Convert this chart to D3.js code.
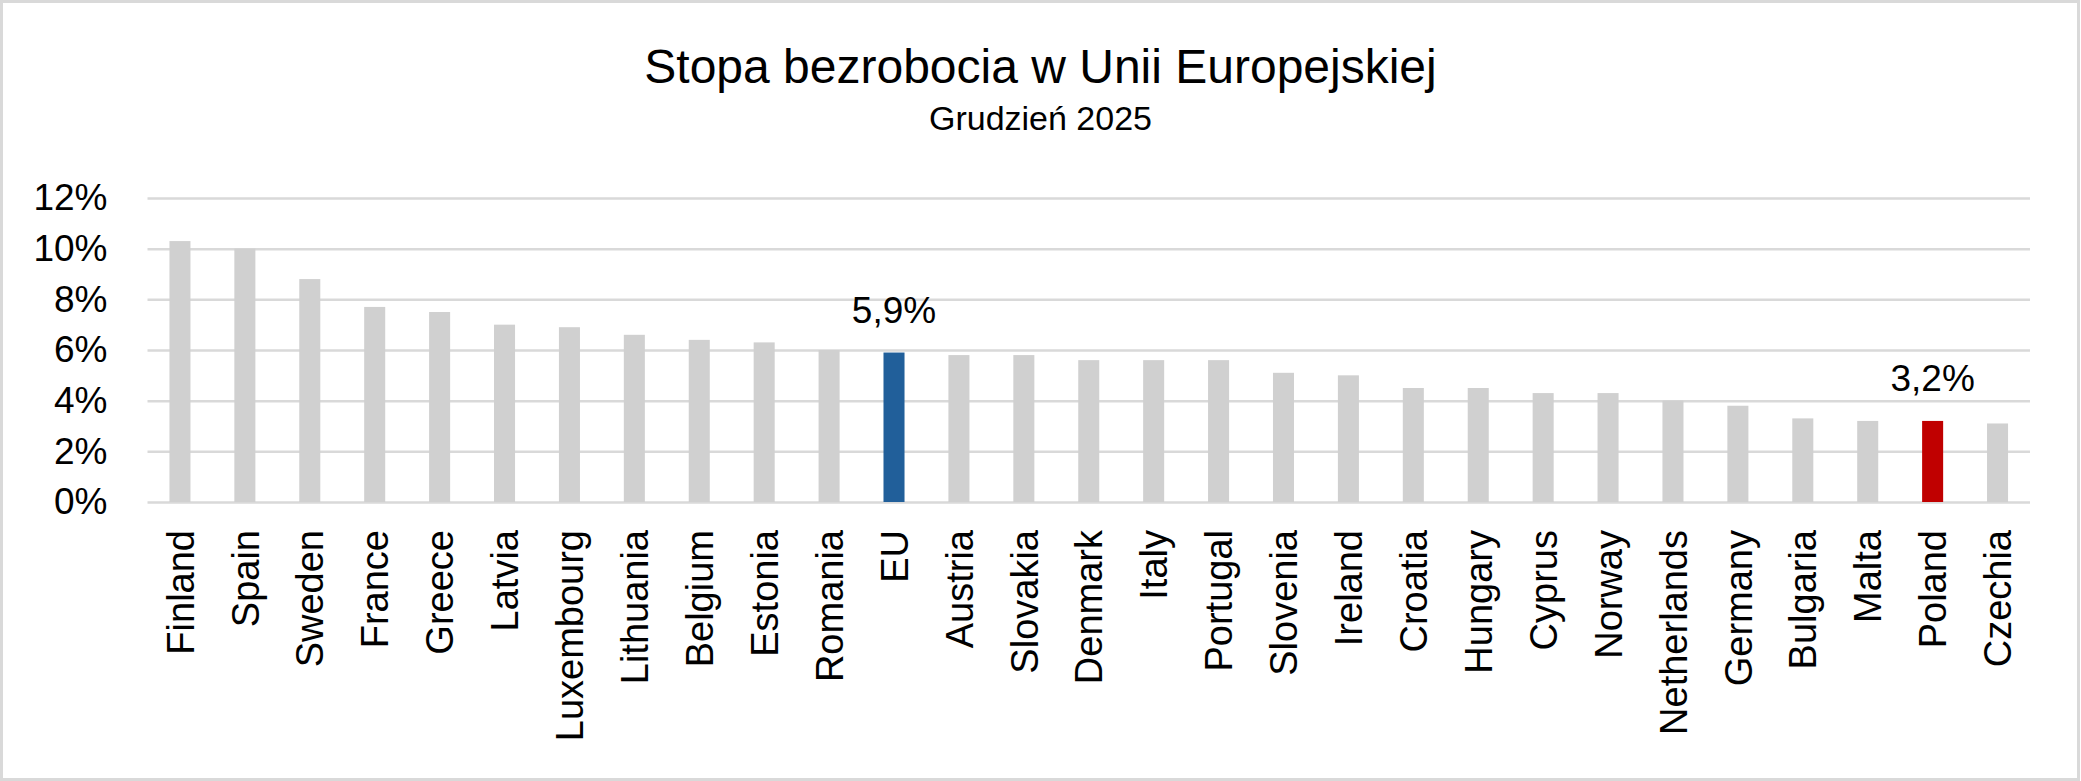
<!DOCTYPE html>
<html>
<head>
<meta charset="utf-8">
<script src="https://cdn.jsdelivr.net/npm/d3@7"></script>
<style>
  html, body { margin: 0; padding: 0; background: #fff; }
  text { font-family: "Liberation Sans", Arial, sans-serif; fill: #000; }
</style>
</head>
<body>
<div id="chart"></div>
<script>
// Unemployment rate in the EU, December 2025 (bar chart, two highlighted bars)

const countries = ["Finland", "Spain", "Sweden", "France", "Greece", "Latvia",
  "Luxembourg", "Lithuania", "Belgium", "Estonia", "Romania", "EU", "Austria",
  "Slovakia", "Denmark", "Italy", "Portugal", "Slovenia", "Ireland", "Croatia",
  "Hungary", "Cyprus", "Norway", "Netherlands", "Germany", "Bulgaria", "Malta",
  "Poland", "Czechia"]
const rates = [10.3, 10.0, 8.8, 7.7, 7.5, 7.0, 6.9, 6.6, 6.4, 6.3, 6.0, 5.9,
  5.8, 5.8, 5.6, 5.6, 5.6, 5.1, 5.0, 4.5, 4.5, 4.3, 4.3, 4.0, 3.8, 3.3, 3.2,
  3.2, 3.1]
const yTicks = [0, 2, 4, 6, 8, 10, 12]
const labelled = ["EU", "Poland"]

const WIDTH = 2081
const HEIGHT = 781
const PLOT = { LEFT: 147.5, RIGHT: 2030, TOP: 198, BOTTOM: 502 }

const colorFor = name => name === "EU" ? "#215f9a"
  : name === "Poland" ? "#c00000" : "#d0d0d0"
const pct = v => d3.format(".1f")(v).replace(".", ",") + "%"

const svg = d3.select("#chart")
  .append("svg")
  .attr("width", WIDTH)
  .attr("height", HEIGHT)

// chart border
svg.append("rect")
  .attr("x", 1.5).attr("y", 1.5)
  .attr("width", WIDTH - 4).attr("height", HEIGHT - 3)
  .attr("fill", "#fff")
  .attr("stroke", "#d9d9d9")
  .attr("stroke-width", 3)

svg.append("text")
  .attr("x", WIDTH / 2).attr("y", 83)
  .attr("text-anchor", "middle")
  .style("font-size", "48px")
  .text("Stopa bezrobocia w Unii Europejskiej")

svg.append("text")
  .attr("x", WIDTH / 2).attr("y", 130)
  .attr("text-anchor", "middle")
  .style("font-size", "34px")
  .text("Grudzień 2025")

const x = d3.scaleBand()
  .domain(countries)
  .range([PLOT.LEFT, PLOT.RIGHT])
  .paddingInner(0.676)
  .paddingOuter(0.338)

const y = d3.scaleLinear()
  .domain([0, 12])
  .range([PLOT.BOTTOM, PLOT.TOP])

// gridlines + tick labels
const yAxis = svg.append("g")
  .attr("transform", `translate(${PLOT.LEFT},0)`)
  .call(d3.axisLeft(y)
    .tickValues(yTicks)
    .tickSize(-(PLOT.RIGHT - PLOT.LEFT))
    .tickPadding(40)
    .tickFormat(d => d + "%"))
yAxis.select(".domain").remove()
yAxis.selectAll(".tick line")
  .attr("stroke", "#d9d9d9")
  .attr("stroke-width", 2.5)
yAxis.selectAll(".tick text")
  .style("font-size", "37px")
  .attr("fill", "#000")

const data = countries.map((c, i) => ({ name: c, value: rates[i] }))

svg.append("g")
  .selectAll("rect")
  .data(data)
  .join("rect")
    .attr("x", d => x(d.name))
    .attr("y", d => y(d.value))
    .attr("width", x.bandwidth())
    .attr("height", d => y(0) - y(d.value))
    .attr("fill", d => colorFor(d.name))

// value labels for highlighted bars
svg.append("g")
  .selectAll("text")
  .data(data.filter(d => labelled.includes(d.name)))
  .join("text")
    .attr("x", d => x(d.name) + x.bandwidth() / 2)
    .attr("y", d => y(d.value) - 30)
    .attr("text-anchor", "middle")
    .style("font-size", "37px")
    .text(d => pct(d.value))

// category labels, rotated
const xAxis = svg.append("g")
  .attr("transform", `translate(0,${PLOT.BOTTOM})`)
  .call(d3.axisBottom(x).tickSize(0).tickPadding(0))
xAxis.select(".domain").remove()
xAxis.selectAll(".tick text")
  .attr("transform", "rotate(-90)")
  .attr("x", -28)
  .attr("y", 0)
  .attr("dy", "0.36em")
  .attr("text-anchor", "end")
  .attr("fill", "#000")
  .style("font-size", "38px")
</script>
</body>
</html>
